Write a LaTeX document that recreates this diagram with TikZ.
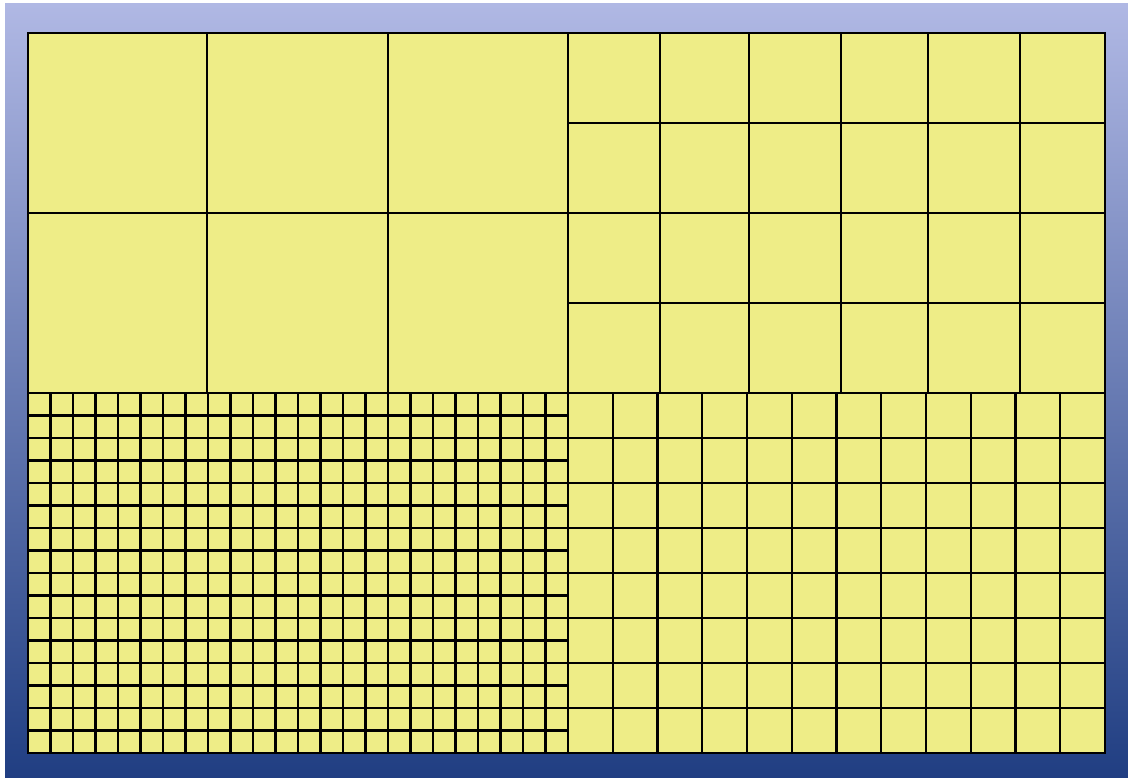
\documentclass[tikz,border=0pt]{standalone}
\usepackage{xcolor}
\usepackage{tikz}

\definecolor{meshfill}{RGB}{238,237,135}
\definecolor{bgtop}{RGB}{176,184,228}
\definecolor{bgmid}{RGB}{102,120,184}
\definecolor{bgbot}{RGB}{32,62,130}

\begin{document}
\begin{tikzpicture}[
    x=1pt, y=-1pt,
    backdrop/.style={top color=bgtop, middle color=bgmid, bottom color=bgbot},
    meshface/.style={fill=meshfill},
    meshline/.style={draw=black, line width=2.1pt, line cap=rect},
    meshedge/.style={draw=black, line width=2.2pt}
]
\useasboundingbox (0,0) rectangle (1128,778);
\fill[white] (0,0) rectangle (1128,778);
\shade[backdrop] (5,4) rectangle (1128,778);

% Mesh face
\fill[meshface] (28,33) rectangle (1105,753);

% Top-left block: 3 x 2 coarse cells
\foreach \x in {207,388} \draw[meshline] (\x,33) -- (\x,393);
\draw[meshline] (28,213) -- (568,213);

% Top-right block: 6 x 4 cells
\foreach \x in {660,749,841,928,1020} \draw[meshline] (\x,33) -- (\x,393);
\foreach \y in {123,213,303} \draw[meshline] (568,\y) -- (1105,\y);

% Bottom-left block: 24 x 16 fine cells
\foreach \i in {1,...,23} \draw[meshline] ({28+\i*22.5},393) -- ({28+\i*22.5},753);
\foreach \j in {1,...,15} \draw[meshline] (28,{393+\j*22.5}) -- (568,{393+\j*22.5});

% Bottom-right block: 12 x 8 cells
\foreach \i in {1,...,11} \draw[meshline] ({568+\i*44.75},393) -- ({568+\i*44.75},753);
\foreach \j in {1,...,7} \draw[meshline] (568,{393+\j*45}) -- (1105,{393+\j*45});

% Block borders and outline
\draw[meshedge] (568,33) -- (568,753);
\draw[meshedge] (28,393) -- (1105,393);
\draw[meshedge] (28,33) rectangle (1105,753);

\end{tikzpicture}
\end{document}
